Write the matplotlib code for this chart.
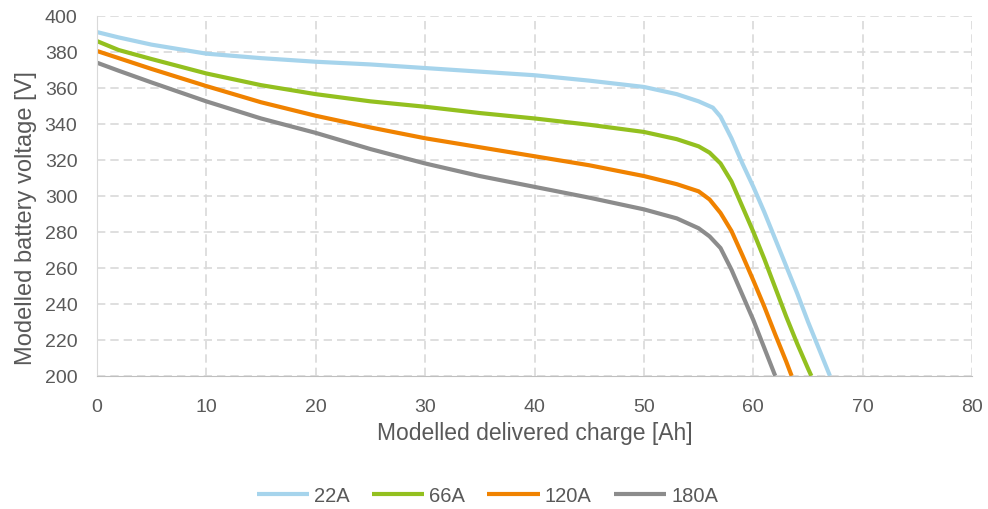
import matplotlib
matplotlib.use('Agg')
import matplotlib.pyplot as plt

# Modelled discharge curves
q_22 = [0, 2, 5, 10, 15, 20, 25, 30, 35, 40, 45, 50, 53, 55, 56.3, 57, 58, 59, 60, 61, 62, 63, 64, 65, 66, 67]
v_22 = [391, 388, 384, 379, 376.5, 374.5, 373, 371, 369, 367, 364, 360.5, 356.5, 352.5, 349, 344, 332, 318, 305,
        291, 276, 261, 246, 230, 215, 200]

q_66 = [0, 2, 5, 10, 15, 20, 25, 30, 35, 40, 45, 50, 53, 55, 56, 57, 58, 59, 60, 61, 62, 63, 64, 65, 65.3]
v_66 = [386, 381, 376, 368, 361.5, 356.5, 352.5, 349.5, 346, 343, 339.5, 335.5, 331.5, 327.5, 324, 318, 308, 294,
        280, 265, 249, 233, 218, 204, 200]

q_120 = [0, 2, 5, 10, 15, 20, 25, 30, 35, 40, 45, 50, 53, 55, 56, 57, 58, 59, 60, 61, 62, 63, 63.5]
v_120 = [380.5, 376.5, 370.5, 361, 352, 344.5, 338, 332, 327, 322, 317, 311, 306.5, 302.5, 298, 290.5, 280.5, 267,
         253, 238.5, 223, 208, 200]

q_180 = [0, 2, 5, 10, 15, 20, 25, 30, 35, 40, 45, 50, 53, 55, 56, 57, 58, 59, 60, 61, 62]
v_180 = [374, 369.5, 363, 352.5, 343, 335, 326, 318, 311, 305, 299, 292.5, 287.5, 282, 277.5, 271, 259, 245, 231,
         215.5, 200]

labels = ['22A', '66A', '120A', '180A']
colors = ['#A6D4EC', '#93C01F', '#F08200', '#8C8C8C']

x_ticks = [0, 10, 20, 30, 40, 50, 60, 70, 80]
y_ticks = [200, 220, 240, 260, 280, 300, 320, 340, 360, 380, 400]

plt.rcParams['font.family'] = ['Liberation Sans', 'DejaVu Sans']
text_col = '#595959'

fig = plt.figure(figsize=(9.88, 5.10), dpi=100)
ax = fig.add_axes([0.098, 0.261, 0.886, 0.706])

series = [(q_22, v_22), (q_66, v_66), (q_120, v_120), (q_180, v_180)]
for (q, v), lab, c in zip(series, labels, colors):
    ax.plot(q, v, color=c, lw=3, label=lab, solid_capstyle='butt')

ax.set_xlim(0, 80)
ax.set_ylim(200, 400)
ax.set_xticks(x_ticks)
ax.set_yticks(y_ticks)
ax.grid(True, color='#D9D9D9', linestyle=(0, (5, 3)), lw=1.2)
ax.set_axisbelow(True)

for s in ['top', 'right']:
    ax.spines[s].set_visible(False)
ax.spines['left'].set_color('#D9D9D9')
ax.spines['bottom'].set_color('#BFBFBF')
ax.tick_params(axis='both', length=0, labelsize=14, colors=text_col)
ax.tick_params(axis='x', pad=16)
ax.tick_params(axis='y', pad=14)

ax.set_xlabel('Modelled delivered charge [Ah]', fontsize=16.5, color=text_col)
ax.xaxis.set_label_coords(0.5, -0.125)
ax.set_ylabel('Modelled battery voltage [V]', fontsize=17, color=text_col)
ax.yaxis.set_label_coords(-0.068, 0.44)

fig.legend(loc='center', bbox_to_anchor=(0.4934, 0.027), ncol=4, frameon=False,
           fontsize=14.5, labelcolor=text_col, handlelength=2.6, handletextpad=0.25,
           columnspacing=1.1, borderpad=0)

fig.savefig('out.png', dpi=100)
